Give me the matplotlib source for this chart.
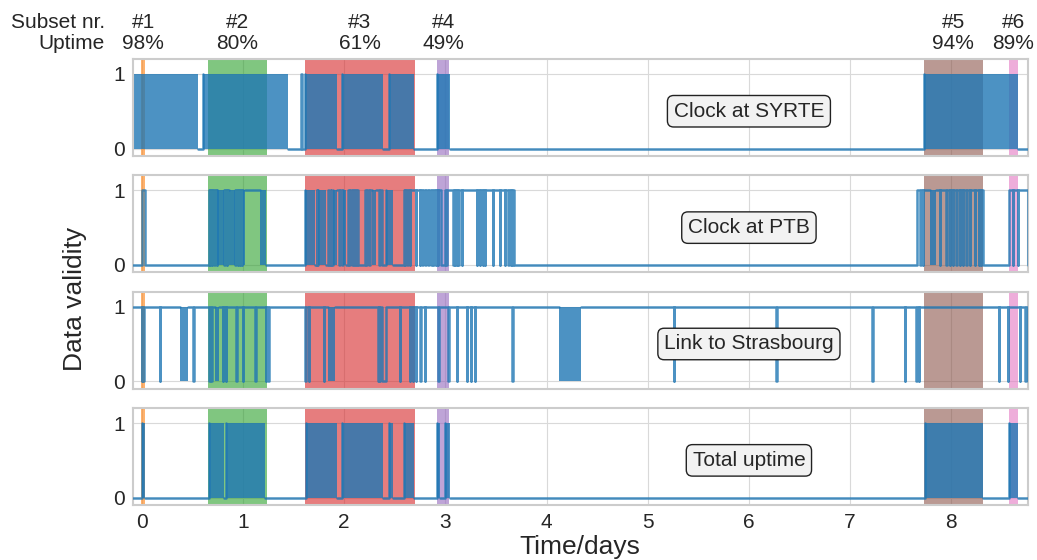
import matplotlib
matplotlib.use("Agg")
import numpy as np
import matplotlib.pyplot as plt
import matplotlib.transforms as mtransforms
import seaborn as sns

# ---------------- data (days) ----------------
T_START, T_END = -0.09, 8.755

subset_labels = ["#1", "#2", "#3", "#4", "#5", "#6"]
subset_uptime = ["98%", "80%", "61%", "49%", "94%", "89%"]
subset_spans = [(-0.005, 0.035), (0.65, 1.235), (1.61, 2.70),
                (2.915, 3.04), (7.73, 8.31), (8.57, 8.66)]
subset_colors = ["tab:orange", "tab:green", "tab:red",
                 "tab:purple", "tab:brown", "tab:pink"]

panel_titles = ["Clock at SYRTE", "Clock at PTB", "Link to Strasbourg", "Total uptime"]

# Clock at SYRTE: valid intervals (densely toggling -> drawn filled)
syrte_on = [(-0.09, 0.556), (0.606, 1.44), (1.575, 1.58), (1.61, 1.924),
            (1.98, 2.385), (2.444, 2.688), (2.918, 3.043), (7.73, 8.66)]
syrte_drops = []
syrte_dense = [(-0.09, 0.556), (0.606, 1.44), (1.61, 1.924),
               (1.98, 2.385), (2.444, 2.688), (2.918, 3.043), (7.73, 8.66)]

# Clock at PTB
ptb_on = [(0.0, 0.03), (0.659, 1.225), (1.611, 1.71), (1.728, 1.735),
          (1.743, 1.825), (1.838, 1.845), (1.865, 1.872), (1.891, 1.975),
          (1.99, 2.022), (2.035, 2.045), (2.06, 2.14), (2.204, 2.215),
          (2.23, 2.375), (2.418, 2.484), (2.592, 2.952), (2.994, 3.676),
          (7.66, 8.31), (8.57, 8.755)]
ptb_drops = [0.67, 0.69, 0.715, 0.74, 0.815, 0.84, 0.925, 0.947, 0.97, 0.99, 1.18,
             1.90, 1.95, 2.08, 2.10, 2.12, 2.25, 2.30, 2.345,
             2.60, 2.625, 2.65, 2.71, 2.75, 2.77, 2.80, 2.83, 2.86, 2.88, 2.905, 2.925,
             3.01, 3.08, 3.095, 3.11, 3.126, 3.16, 3.31, 3.34, 3.37, 3.39,
             3.47, 3.54, 3.59, 3.62, 3.645, 3.66,
             7.694, 7.72, 7.886, 7.95, 7.985, 8.017, 8.05, 8.083, 8.116, 8.149,
             8.182, 8.23, 8.27, 8.29, 8.61, 8.66]
ptb_dense = [(0.744, 0.81), (0.857, 0.92), (0.995, 1.02), (1.166, 1.225),
             (1.611, 1.71), (1.743, 1.825), (1.891, 1.924), (1.99, 2.022),
             (2.276, 2.319), (2.418, 2.484), (7.793, 7.853)]

# Link to Strasbourg
stras_on = [(-0.09, 2.37), (2.41, 8.755)]
stras_drops = [0.0, 0.015, 0.178, 0.507, 0.665, 0.685, 0.80, 0.83, 0.935, 0.995,
               1.12, 1.225, 1.25, 1.615, 1.65, 1.80, 2.335, 2.345, 2.55, 2.65, 2.68,
               2.71, 2.754, 2.797, 2.93, 3.03, 3.11, 3.21, 3.25, 3.29, 3.66,
               5.26, 6.27, 7.22, 7.54, 7.655, 7.68, 8.47, 8.56, 8.675, 8.73]
stras_dense = [(0.375, 0.46), (0.72, 0.764), (1.84, 1.907), (4.12, 4.345)]

# Total uptime
total_on = [(0.0, 0.03), (0.66, 0.81), (0.83, 1.222), (1.62, 1.93),
            (1.983, 2.385), (2.444, 2.483), (2.589, 2.688), (2.918, 2.95),
            (2.994, 3.05), (7.737, 8.31), (8.567, 8.66)]
total_drops = []
total_dense = [(0.0, 0.03), (0.66, 0.81), (0.83, 1.222), (1.62, 1.93),
               (1.983, 2.385), (2.444, 2.483), (2.589, 2.688), (2.918, 2.95),
               (2.994, 3.05), (7.737, 8.31), (8.567, 8.66)]

series = [(syrte_on, syrte_drops, syrte_dense),
          (ptb_on, ptb_drops, ptb_dense),
          (stras_on, stras_drops, stras_dense),
          (total_on, total_drops, total_dense)]


def signal(on, drops, w=0.004):
    segs = []
    for a, b in on:
        cuts = sorted(t for t in drops if a < t < b)
        s = a
        for t in cuts:
            segs.append((s, t))
            s = t + w
        segs.append((s, b))
    x, y = [T_START], [0]
    for a, b in segs:
        x += [a, b]
        y += [1, 0]
    x.append(T_END)
    y.append(0)
    return np.array(x), np.array(y)


def value_at(x, y, t):
    i = np.searchsorted(x, t, side="right") - 1
    return y[max(i, 0)]


def free_ranges(dense):
    out, s = [], T_START
    for a, b in sorted(dense):
        if a > s:
            out.append((s, a))
        s = max(s, b)
    if s < T_END:
        out.append((s, T_END))
    return out


# ---------------- style ----------------
sns.set_style("whitegrid")
plt.rcParams["font.family"] = ["Liberation Sans", "DejaVu Sans"]
plt.rcParams["axes.edgecolor"] = "#cccccc"
plt.rcParams["axes.linewidth"] = 1.5
plt.rcParams["grid.color"] = "#d9d9d9"

fig, axes = plt.subplots(4, 1, figsize=(10.37, 5.6), dpi=100, sharex=True)
fig.subplots_adjust(left=0.128, right=0.991, top=0.8946, bottom=0.098, hspace=0.2)

blue = "tab:blue"
for ax, (on, drops, dense), title in zip(axes, series, panel_titles):
    ax.set_axisbelow(True)
    for (a, b), c in zip(subset_spans, subset_colors):
        ax.axvspan(a, b, color=c, alpha=0.6, lw=0, zorder=1)
    for a, b in dense:
        ax.fill_between([a, b], 0, 1, color=blue, alpha=0.8, lw=0, zorder=2)
    x, y = signal(on, drops)
    for c, d in free_ranges(dense):
        m = (x > c) & (x < d)
        xs = np.concatenate([[c], x[m], [d]])
        ys = np.concatenate([[value_at(x, y, c)], y[m], [value_at(x, y, d)]])
        ax.step(xs, ys, where="post", color=blue, alpha=0.8, lw=1.8, zorder=3)
    ax.set_xlim(T_START, T_END)
    ax.set_ylim(-0.1, 1.2)
    ax.set_yticks([0, 1])
    ax.set_xticks(range(0, 9))
    ax.tick_params(labelsize=15, pad=2)
    ax.text(6, 0.5, title, fontsize=15, ha="center", va="center", zorder=5,
            bbox=dict(boxstyle="round,pad=0.3", fc="#f2f2f2", ec="#222222", lw=1))

top = axes[0]
trans = mtransforms.blended_transform_factory(top.transData, top.transAxes)
for (a, b), lab, up in zip(subset_spans, subset_labels, subset_uptime):
    top.text((a + b) / 2, 1.06, f"{lab}\n{up}", transform=trans, ha="center",
             va="bottom", fontsize=15, linespacing=1.15)
top.text(-0.031, 1.06, "Subset nr.\nUptime", transform=top.transAxes, ha="right",
         va="bottom", fontsize=15, linespacing=1.15, multialignment="right")

axes[-1].set_xlabel("Time/days", fontsize=19, labelpad=2)
fig.text(0.072, 0.466, "Data validity", rotation=90, ha="center", va="center", fontsize=19)

fig.savefig("out.png", dpi=100)
